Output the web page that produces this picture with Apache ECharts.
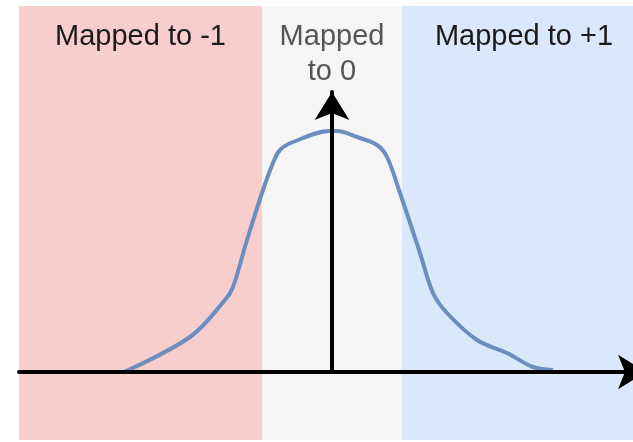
<!DOCTYPE html>
<html>
<head>
<meta charset="utf-8">
<script src="https://cdn.jsdelivr.net/npm/echarts@6/dist/echarts.min.js"></script>
<style>
  html, body { margin: 0; padding: 0; background: #ffffff; }
  #chart { width: 633px; height: 442px; }
</style>
</head>
<body>
<div id="chart"></div>
<script>
// Input value range (1 unit = one step along the axis) and the band limits
const xRange = [-3.13, 3.01];
const bandEdges = [-3.13, -0.7, 0.7, 3.14];
const bandLabels = ['Mapped to -1', 'Mapped\nto 0', 'Mapped to +1'];
const bandColors = ['#f8cecc', '#f5f5f5', '#dae8fc'];
const bandTextColors = ['#1a1a1a', '#555555', '#1a1a1a'];

// Distribution curve
const curveX = [-2.08, -1.42, -1.07, -0.99, -0.85, -0.69, -0.59, -0.52, -0.39, -0.02,
                0.05, 0.25, 0.45, 0.55, 0.68, 0.88, 1.01, 1.15, 1.45, 1.75, 2.01, 2.21];
const curveY = [0.00, 0.35, 0.72, 0.85, 1.32, 1.82, 2.09, 2.22, 2.30, 2.41,
                2.41, 2.35, 2.27, 2.15, 1.79, 1.19, 0.79, 0.59, 0.32, 0.19, 0.05, 0.02];
const yMax = 2.80;

const font = "'Liberation Sans', Arial, Helvetica, sans-serif";

const chart = echarts.init(document.getElementById('chart'), null, { renderer: 'canvas' });

const bands = bandLabels.map((name, i) => [
  {
    xAxis: bandEdges[i],
    itemStyle: { color: bandColors[i], opacity: 1 },
    label: {
      show: true,
      position: 'insideTop',
      distance: 13,
      formatter: name,
      color: bandTextColors[i],
      fontSize: 29,
      lineHeight: 35,
      fontFamily: font
    }
  },
  { xAxis: bandEdges[i + 1] }
]);

const hiddenAxis = {
  show: false, axisLine: { show: false }, axisTick: { show: false },
  axisLabel: { show: false }, splitLine: { show: false }
};

const arrowAxis = (extra) => Object.assign({
  type: 'value', gridIndex: 1, z: 10,
  axisTick: { show: false }, axisLabel: { show: false }, splitLine: { show: false }
}, extra);

chart.setOption({
  animation: false,
  backgroundColor: '#ffffff',
  grid: [
    // background bands run past the right edge of the canvas
    { left: 19, width: 627, top: 6, bottom: 2, outerBoundsMode: 'none', containLabel: false },
    { left: 19, right: 0, top: 92, bottom: 70, outerBoundsMode: 'none', containLabel: false }
  ],
  xAxis: [
    Object.assign({ type: 'value', gridIndex: 0, min: bandEdges[0], max: bandEdges[3] }, hiddenAxis),
    arrowAxis({
      min: xRange[0], max: xRange[1],
      axisLine: {
        show: true, onZero: true,
        lineStyle: { color: '#000000', width: 4 },
        symbol: ['none', 'arrow'],
        symbolSize: [26, 28],
        symbolOffset: [0, 13]
      }
    })
  ],
  yAxis: [
    Object.assign({ type: 'value', gridIndex: 0, min: 0, max: 1 }, hiddenAxis),
    arrowAxis({
      min: 0, max: yMax,
      axisLine: {
        show: true, onZero: true,
        lineStyle: { color: '#000000', width: 4 },
        symbol: ['none', 'arrow'],
        symbolSize: [26, 28]
      }
    })
  ],
  series: [
    {
      type: 'line',
      xAxisIndex: 0, yAxisIndex: 0,
      data: [],
      silent: true,
      clip: false,
      z: -5,
      markArea: { silent: true, data: bands }
    },
    {
      type: 'line',
      xAxisIndex: 1, yAxisIndex: 1,
      data: curveX.map((x, i) => [x, curveY[i]]),
      smooth: 0.35,
      showSymbol: false,
      lineStyle: { color: '#6c8ebf', width: 4 },
      z: 2
    }
  ]
});
</script>
</body>
</html>
